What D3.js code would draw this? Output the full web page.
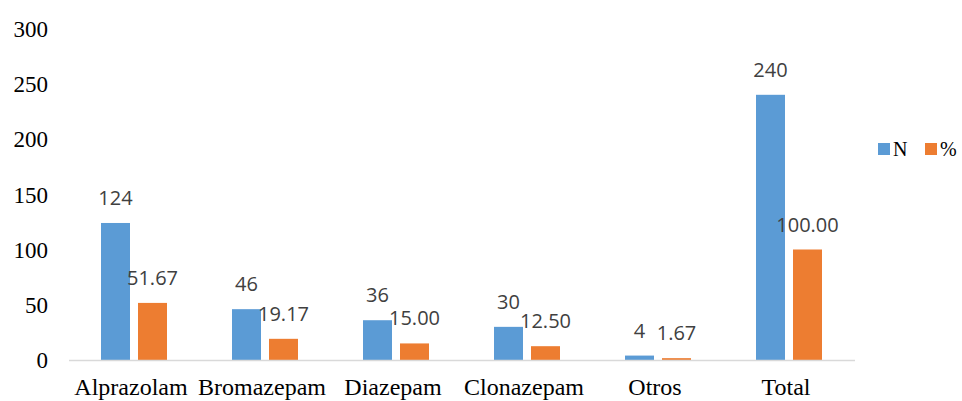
<!DOCTYPE html>
<html><head><meta charset="utf-8">
<script src="https://cdn.jsdelivr.net/npm/d3@7"></script>
<style>body{margin:0;background:#fff}svg{display:block}</style>
</head><body>
<script>
const categories = ["Alprazolam","Bromazepam","Diazepam","Clonazepam","Otros","Total"];
const seriesNames = ["N","%"];
const valuesN = [124,46,36,30,4,240];
const valuesPct = [51.67,19.17,15.00,12.50,1.67,100.00];
const labelsN = ["124","46","36","30","4","240"];
const labelsPct = ["51.67","19.17","15.00","12.50","1.67","100.00"];
const yTicks = [0,50,100,150,200,250,300];
const colors = ["#5B9BD5","#ED7D31"];

const W=962,H=401;
const svg=d3.select("body").append("svg").attr("width",W).attr("height",H);
const y=d3.scaleLinear().domain([0,300]).range([360,28.5]);
const x0=d3.scaleBand().domain(categories).range([68.5,854.5]).padding(0);
const inner=(x0.bandwidth()-66)/2;
const x1=d3.scaleBand().domain(seriesNames).range([inner,inner+66]).paddingInner(2-66/37).paddingOuter(0);

// y axis labels
const yAxis=d3.axisLeft(y).tickValues(yTicks).tickSize(0).tickPadding(0);
const gy=svg.append("g").attr("transform","translate(48,0)").call(yAxis);
gy.select(".domain").remove();
gy.selectAll("text").attr("font-family","'Liberation Serif','Times New Roman',serif").attr("font-size",23).attr("fill","#000").attr("dy","0.34em");

// bars
const data=categories.map((c,i)=>({c,vals:[{s:"N",v:valuesN[i],l:labelsN[i]},{s:"%",v:valuesPct[i],l:labelsPct[i]}]}));
const groups=svg.append("g").selectAll("g").data(data).join("g").attr("transform",d=>`translate(${x0(d.c)},0)`);
groups.selectAll("rect").data(d=>d.vals).join("rect")
  .attr("x",d=>x1(d.s)).attr("width",x1.bandwidth())
  .attr("y",d=>y(d.v)).attr("height",d=>y(0)-y(d.v))
  .attr("fill",(d,i)=>colors[i]);
groups.selectAll("text").data(d=>d.vals).join("text")
  .attr("x",d=>x1(d.s)+x1.bandwidth()/2).attr("y",d=>y(d.v)-18)
  .attr("text-anchor","middle").attr("font-family","'Open Sans',sans-serif").attr("font-size",20).attr("fill","#404040")
  .text(d=>d.l);

// x axis
const xAxis=d3.axisBottom(x0).tickSize(0).tickPadding(0);
const gx=svg.append("g").attr("transform","translate(0,360)").call(xAxis);
gx.select(".domain").attr("stroke","#d9d9d9").attr("stroke-width",1.5);
gx.selectAll("text").attr("font-family","'Liberation Serif','Times New Roman',serif").attr("font-size",24).attr("fill","#000").attr("dy",0).attr("y",35).attr("dx",-3);

// legend
const leg=svg.append("g");
const legX=[878,925];
seriesNames.forEach((s,i)=>{
  leg.append("rect").attr("x",legX[i]).attr("y",143).attr("width",12).attr("height",12).attr("fill",colors[i]);
  leg.append("text").attr("x",legX[i]+15).attr("y",155.5).attr("font-family","'Liberation Serif','Times New Roman',serif").attr("font-size",20).attr("fill","#000").text(s);
});
</script>
</body></html>
